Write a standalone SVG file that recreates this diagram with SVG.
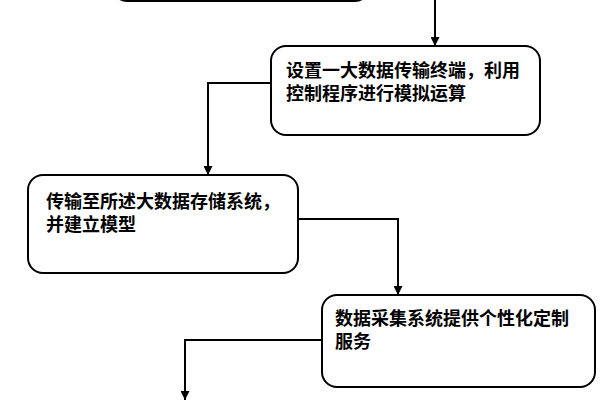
<svg xmlns="http://www.w3.org/2000/svg" width="600" height="400" viewBox="0 0 600 400">
<style>
.box{fill:#fff;stroke:#000;stroke-width:2}
.t{font-family:"Liberation Sans","Noto Sans CJK SC",sans-serif;font-size:18px;font-weight:bold;fill:#000}
.c{fill:none;stroke:#000;stroke-width:2}
</style>
<defs>
<marker id="a" viewBox="0 0 10 10" refX="10" refY="5" markerWidth="9" markerHeight="9" markerUnits="userSpaceOnUse" orient="auto">
<path d="M0,0L10,5L0,10z" fill="#000"/>
</marker>
</defs>
<g id="node0"><rect class="box" x="113" y="-60" width="256" height="61" rx="14"/></g>
<g id="node1"><rect class="box" x="271" y="46" width="269" height="89" rx="15"/>
<text class="t" x="286" y="77">设置一大数据传输终端，利用</text>
<text class="t" x="286" y="100">控制程序进行模拟运算</text></g>
<g id="node2"><rect class="box" x="28" y="175" width="270" height="98" rx="15"/>
<text class="t" x="46" y="208">传输至所述大数据存储系统，</text>
<text class="t" x="46" y="231">并建立模型</text></g>
<g id="node3"><rect class="box" x="322" y="295" width="273" height="92" rx="15"/>
<text class="t" x="335" y="325">数据采集系统提供个性化定制</text>
<text class="t" x="335" y="348">服务</text></g>
<g id="connectors">
<path class="c" d="M435,0V46" marker-end="url(#a)"/>
<path class="c" d="M271,83H208V175" marker-end="url(#a)"/>
<path class="c" d="M298,219H398V295" marker-end="url(#a)"/>
<path class="c" d="M322,340H185V400" marker-end="url(#a)"/>
</g>
</svg>
